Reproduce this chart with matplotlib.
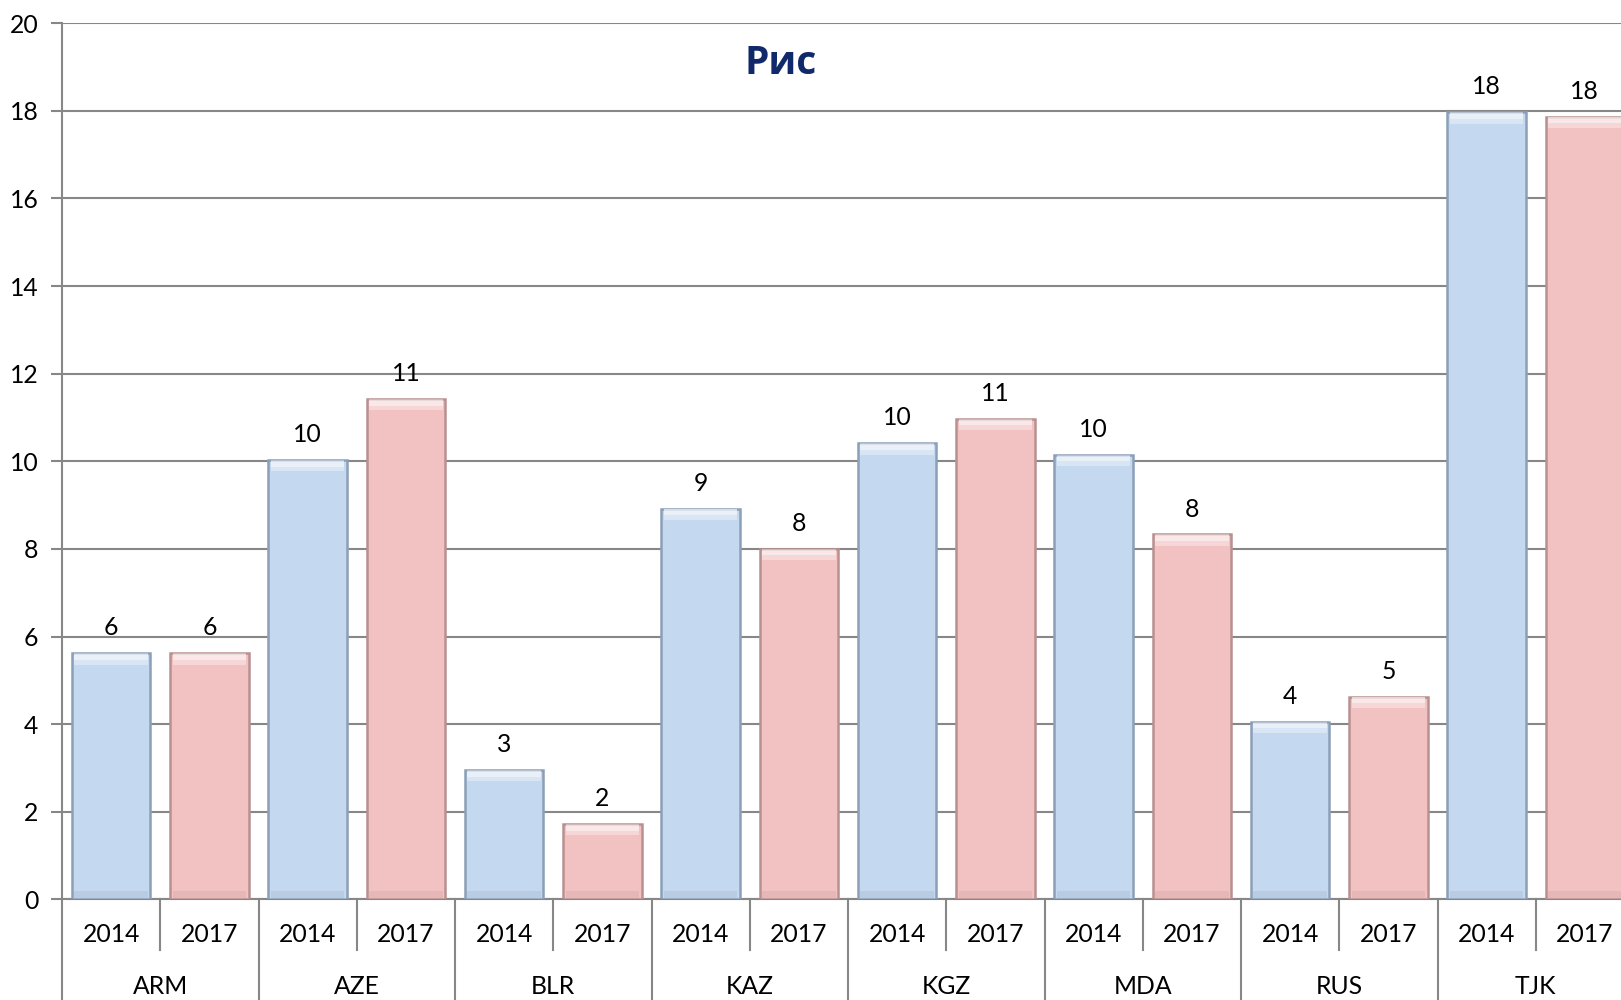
import matplotlib
matplotlib.use("Agg")
import matplotlib.pyplot as plt
import numpy as np

countries = ["ARM", "AZE", "BLR", "KAZ", "KGZ", "MDA", "RUS", "TJK"]
years = ["2014", "2017"]
vals_2014 = [5.62, 10.03, 2.95, 8.92, 10.41, 10.15, 4.05, 17.97]
vals_2017 = [5.62, 11.42, 1.72, 8.00, 10.97, 8.33, 4.63, 17.87]
yticks = [0, 2, 4, 6, 8, 10, 12, 14, 16, 18, 20]
title = "Рис"

plt.rcParams['font.family'] = ['Lato', 'Open Sans', 'DejaVu Sans']

W, H = 1621, 1000
fig = plt.figure(figsize=(W / 100, H / 100), dpi=100)
x0, x1 = 62, 1634
y0, y1 = 899.3, 23.3
ax = fig.add_axes([x0 / W, 1 - y0 / H, (x1 - x0) / W, (y0 - y1) / H])

n = len(countries)
pos14 = np.arange(n) * 2
pos17 = np.arange(n) * 2 + 1
bw = 0.80
fs = 17.8

blue, blue_e = "#C4D8EF", "#8C9FB8"
pink, pink_e = "#F2C1C1", "#B99090"

ax.set_axisbelow(True)
ax.yaxis.grid(True, color="#878787", linewidth=1.5)
for p, v, fc, ec in [(pos14, vals_2014, blue, blue_e), (pos17, vals_2017, pink, pink_e)]:
    v = np.array(v)
    ax.bar(p, v, width=bw, color=fc, edgecolor=ec, linewidth=1.8, zorder=3)
    # bevel highlight at top (two layered strips for a soft gradient)
    ax.bar(p, [0.26] * n, bottom=v - 0.26, width=bw - 0.05,
           color="white", alpha=0.35, linewidth=0, zorder=4)
    ax.bar(p, [0.13] * n, bottom=v - 0.15, width=bw - 0.05,
           color="white", alpha=0.45, linewidth=0, zorder=4)
    # bevel shadow at bottom
    ax.bar(p, [0.18] * n, bottom=0.02, width=bw - 0.05,
           color="#000000", alpha=0.05, linewidth=0, zorder=4)
    for xi, vi in zip(p, v):
        ax.annotate(f"{vi:.0f}", (xi, vi), xytext=(0, 10), textcoords="offset points",
                    ha="center", va="bottom", fontsize=fs, color="black", zorder=5)

ax.set_xlim(-0.5, 2 * n - 0.5)
ax.set_ylim(0, 20)
ax.set_yticks(yticks)
ax.set_yticklabels([str(t) for t in yticks], fontsize=fs)
ax.tick_params(axis="y", length=8, width=1.5, color="#878787", pad=9)
ax.set_xticks([])
for s in ["top", "right"]:
    ax.spines[s].set_visible(False)
ax.spines["left"].set_color("#878787")
ax.spines["left"].set_linewidth(1.5)
ax.spines["bottom"].set_color("#878787")
ax.spines["bottom"].set_linewidth(1.5)

trans = ax.get_xaxis_transform()
def ay(py):
    return (y0 - py) / (y0 - y1)

for i in range(n):
    left = 2 * i - 0.5
    ax.plot([left, left], [0, ay(1005)], transform=trans, color="#878787",
            linewidth=1.5, clip_on=False)
    ax.plot([left + 1, left + 1], [0, ay(950)], transform=trans, color="#878787",
            linewidth=1.5, clip_on=False)
    ax.text(pos14[i], ay(935), years[0], transform=trans, ha="center", va="center", fontsize=fs)
    ax.text(pos17[i], ay(935), years[1], transform=trans, ha="center", va="center", fontsize=fs)
    ax.text(2 * i + 0.5, ay(987), countries[i], transform=trans, ha="center", va="center", fontsize=fs)

fig.text(781 / W, 1 - 63 / H, title, ha="center", va="center", fontsize=28,
         fontweight="bold", color="#10296A", family=['Open Sans', 'DejaVu Sans'])

fig.savefig("out.png", dpi=100)
